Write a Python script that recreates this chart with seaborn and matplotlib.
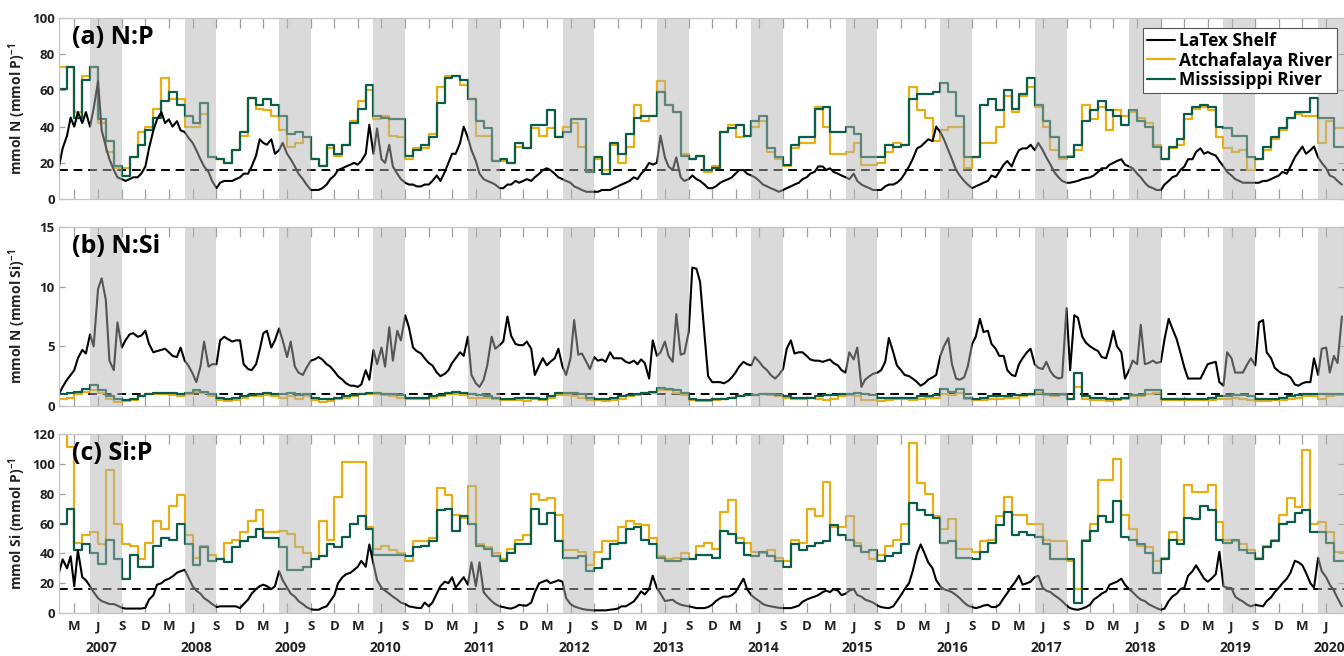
import numpy as np
import pandas as pd
import matplotlib
matplotlib.use('Agg')
import matplotlib.pyplot as plt
import matplotlib.dates as mdates
from matplotlib.ticker import FuncFormatter
import seaborn as sns

# ---------------- data ----------------
series_names = ['LaTex Shelf', 'Atchafalaya River', 'Mississippi River']
panel_titles = ['(a) N:P', '(b) N:Si', '(c) Si:P']
y_labels = [r'mmol N (mmol P)$^{-1}$', r'mmol N (mmol Si)$^{-1}$', r'mmol Si (mmol P)$^{-1}$']
redfield = [16, 1, 16]
y_max = [100, 15, 120]
y_ticks = [[0, 20, 40, 60, 80, 100], [0, 5, 10, 15], [0, 20, 40, 60, 80, 100, 120]]
month_letters = {3: 'M', 6: 'J', 9: 'S', 12: 'D'}
years = list(range(2007, 2021))
summer_months = (5, 9)          # shaded May 1 - Sep 1
shelf_start, shelf_end = '2007-01-01', '2020-08-01'   # semi-monthly (1st & 15th)
river_start, river_end = '2007-01-01', '2020-08-01'   # monthly means

# LaTex shelf, semi-monthly
latex_np = [
    18, 28, 35, 45, 40, 48, 42, 48, 40, 50, 65, 38, 29, 22, 16, 12, 11, 10, 11, 12, 12, 14, 18, 28,
    38, 44, 48, 42, 44, 40, 43, 38, 37, 34, 31, 27, 22, 18, 15, 10, 6, 9, 10, 10, 10, 11, 12, 14,
    14, 18, 24, 33, 31, 30, 33, 25, 27, 31, 25, 22, 18, 14, 11, 8, 5, 5, 5, 6, 8, 11, 13, 16,
    17, 18, 19, 20, 19, 21, 25, 41, 25, 39, 22, 20, 30, 18, 14, 11, 9, 8, 8, 7, 7, 8, 8, 10,
    13, 10, 15, 20, 25, 25, 31, 40, 34, 27, 21, 14, 11, 10, 9, 8, 6, 6, 8, 8, 10, 9, 10, 11,
    10, 12, 14, 16, 17, 16, 14, 12, 11, 10, 9, 7, 6, 5, 4, 4, 4, 4, 5, 5, 5, 6, 7, 8,
    9, 10, 12, 11, 14, 16, 20, 19, 20, 35, 23, 18, 16, 23, 12, 10, 11, 13, 11, 10, 8, 6, 6, 7,
    9, 10, 11, 12, 14, 16, 16, 14, 13, 12, 10, 8, 7, 6, 5, 4, 5, 6, 7, 8, 9, 11, 12, 14,
    15, 18, 18, 16, 17, 15, 14, 13, 12, 11, 14, 10, 8, 7, 6, 5, 5, 5, 7, 8, 8, 9, 11, 14,
    18, 22, 28, 29, 31, 33, 32, 40, 37, 33, 27, 22, 16, 13, 10, 8, 6, 7, 8, 9, 10, 13, 12, 15,
    19, 21, 18, 23, 27, 28, 28, 30, 27, 31, 27, 23, 19, 15, 12, 10, 9, 9, 9.5, 10, 11, 11.5, 12, 13,
    15, 17, 17, 19, 20, 21, 22, 19, 18, 17, 14, 12, 9, 7, 6, 5, 5, 8, 10, 12, 13, 16, 18, 22,
    22, 26, 28, 25, 26, 25, 24, 21, 18, 15, 13, 11, 10, 9, 9, 9, 9, 9, 10, 10, 11, 12, 13, 15,
    14, 18, 23, 26, 29, 25, 27, 29, 23, 20, 17, 13, 12, 10, 8]
latex_nsi = [
    1.0, 1.6, 2.2, 2.6, 3.0, 4.0, 4.7, 4.4, 6.0, 5.0, 9.8, 10.7, 8.9, 3.8, 3.0, 7.0, 4.9, 5.5, 6.0, 6.1, 5.8, 5.9, 6.3, 5.2,
    4.5, 4.6, 4.7, 4.8, 4.5, 4.2, 4.1, 4.9, 3.8, 3.4, 2.7, 2.0, 3.3, 5.4, 3.3, 3.5, 3.5, 5.5, 5.8, 5.6, 5.4, 5.5, 5.5, 3.5,
    3.1, 3.0, 3.5, 4.7, 6.1, 6.3, 4.9, 5.5, 6.5, 5.5, 4.1, 5.4, 3.3, 2.8, 2.6, 3.2, 3.8, 3.9, 4.1, 3.9, 3.5, 3.3, 2.9, 2.5,
    2.2, 1.9, 1.7, 1.7, 1.6, 1.8, 3.0, 2.2, 4.7, 3.5, 4.9, 3.3, 6.6, 3.8, 6.3, 5.5, 7.6, 6.6, 4.9, 4.6, 4.4, 4.0, 3.6, 3.4,
    2.8, 2.5, 2.7, 3.0, 3.6, 4.0, 4.5, 4.2, 5.8, 2.6, 1.9, 1.6, 2.2, 3.4, 5.8, 4.8, 5.1, 5.4, 7.5, 5.9, 5.2, 5.1, 5.1, 5.4,
    4.8, 2.6, 3.4, 4.0, 3.4, 3.7, 4.0, 4.8, 3.3, 2.6, 4.0, 7.2, 4.3, 4.4, 3.7, 3.1, 4.1, 3.8, 3.9, 3.7, 4.5, 4.0, 4.0, 4.0,
    3.7, 3.6, 3.8, 3.5, 3.9, 3.6, 2.3, 5.5, 4.2, 4.5, 5.4, 4.2, 3.7, 7.7, 4.3, 4.4, 6.2, 11.6, 11.5, 10.4, 6.0, 2.5, 2.0, 2.0,
    2.0, 1.9, 2.1, 2.4, 2.8, 3.3, 3.7, 3.5, 3.4, 4.1, 3.7, 3.3, 3.0, 2.6, 2.3, 2.6, 3.1, 4.8, 5.5, 4.4, 4.5, 4.5, 4.2, 3.9,
    3.8, 3.8, 3.7, 3.8, 3.9, 3.6, 3.4, 3.0, 2.8, 4.5, 3.9, 4.9, 1.6, 2.2, 2.5, 2.7, 2.8, 3.0, 3.7, 5.7, 4.5, 3.4, 3.0, 2.6,
    2.5, 2.3, 2.0, 1.7, 1.9, 2.2, 2.4, 2.6, 4.2, 5.0, 5.7, 3.5, 2.3, 2.2, 2.4, 3.3, 5.2, 5.8, 7.3, 6.2, 6.3, 5.2, 4.8, 4.2,
    4.2, 3.0, 2.6, 2.5, 3.5, 4.0, 4.5, 4.8, 3.5, 3.2, 3.1, 3.7, 2.9, 2.5, 2.3, 2.4, 8.2, 3.0, 7.6, 7.4, 5.8, 5.3, 5.0, 4.8,
    4.6, 4.1, 4.0, 5.0, 6.3, 5.0, 4.5, 2.3, 3.0, 3.8, 3.5, 6.8, 3.5, 3.6, 3.8, 3.6, 3.7, 5.6, 7.3, 6.5, 5.6, 4.5, 3.2, 2.3,
    2.3, 2.3, 2.3, 2.9, 3.5, 3.6, 3.7, 2.0, 1.7, 4.5, 4.0, 2.8, 2.8, 2.8, 3.5, 4.0, 3.4, 7.0, 7.2, 4.5, 4.0, 3.2, 2.9, 2.7,
    2.6, 2.4, 1.8, 1.7, 1.9, 2.0, 2.0, 4.0, 2.6, 4.8, 4.9, 2.8, 4.2, 3.6, 7.5]
latex_sip = [
    27, 36, 30, 38, 18, 42, 24, 22, 18, 14, 10, 8, 7, 6, 6, 5, 3.5, 3, 3, 3, 3, 3, 3.5, 9,
    12, 19, 20, 22, 23, 24.5, 27, 28, 29, 24, 18, 15, 13, 10, 8, 6, 4, 4.5, 4.5, 4.5, 4.5, 4.5, 3.3, 6,
    9, 13, 16, 18, 19, 18, 16, 18, 28, 22, 17, 13, 11, 8, 6, 4, 2.5, 2.2, 2.2, 3.5, 4.5, 8, 12, 20,
    24, 26, 27, 29, 31, 35, 31, 46, 33, 22, 17, 15, 13, 11, 9, 7, 6, 4.5, 4, 3.5, 3.3, 7, 4.5, 7,
    13, 18, 21, 20, 24, 17, 21, 24, 19, 34, 18, 34, 14, 11, 8, 6, 4.5, 4, 3.3, 3, 4, 5.5, 5, 5,
    7, 14, 20, 21, 22, 20, 21, 22, 21, 10, 6, 4.5, 3.5, 2.8, 2.2, 2, 1.8, 1.8, 1.8, 1.8, 2.2, 2.5, 3, 4.5,
    4.5, 6, 7.8, 11, 14.5, 12.5, 16, 25, 16.7, 13, 8, 8.5, 8.9, 7, 5.6, 5, 4.5, 4, 3.3, 3.3, 3.3, 4, 5.6, 8,
    10, 11, 11, 12, 14, 18, 23, 16, 12, 10, 8, 6, 5, 4.5, 4, 3.5, 3.3, 3.3, 3.3, 4, 5, 7.5, 9, 10,
    11, 12, 14, 15, 14, 16, 15, 12, 13, 15, 16, 12, 11, 9, 8, 7, 5, 4, 3.5, 3.3, 4.5, 8, 12, 16,
    20, 28, 40, 46, 40, 34, 30, 22, 18, 16, 15, 14, 12, 10, 7, 5, 4, 3.3, 4, 5, 5.5, 4, 4, 5.5,
    10, 13.4, 17.8, 21, 25, 19, 20, 21, 24, 25, 17, 15, 14, 12, 10, 8, 5, 3.3, 2.5, 2.2, 3, 4, 5.6, 9,
    11, 13, 14.5, 19, 20, 21, 23, 19, 16, 14, 11, 9, 8, 6, 4.5, 3.3, 2.2, 3, 8, 11, 13, 16, 17, 25,
    28, 32, 27, 23, 21, 23, 26, 41, 18, 17, 16.7, 11, 9, 7.8, 5.5, 4.5, 5.5, 5, 4.5, 8, 10.5, 14, 17, 20,
    23, 27, 35, 34, 32, 27, 20, 17, 37, 28, 24, 19, 15, 10, 4.5]

# Rivers, monthly
atch_np = [
    73, 73, 48, 68, 73, 42, 26, 17, 17, 23, 37, 40,
    50, 67, 55, 55, 40, 40, 47, 23, 22, 20, 27, 35,
    56, 50, 49, 46, 38, 29, 31, 34, 22, 18, 28, 24,
    30, 43, 54, 60, 44, 46, 35, 34, 22, 28, 28, 36,
    62, 68, 68, 63, 55, 35, 35, 21, 21, 20, 29, 28,
    39, 35, 39, 34, 40, 42, 29, 15, 22, 16, 30, 20,
    29, 52, 43, 46, 65, 52, 48, 25, 22, 24, 15, 18,
    37, 41, 34, 35, 40, 43, 26, 22, 18, 28, 31, 31,
    51, 40, 25, 25, 26, 31, 19, 19, 20, 26, 31, 30,
    62, 49, 45, 32, 38, 40, 40, 17, 23, 31, 31, 40,
    57, 48, 57, 62, 51, 40, 27, 22, 24, 27, 52, 44,
    51, 38, 49, 46, 48, 45, 42, 30, 22, 28, 30, 44,
    50, 51, 49, 34, 28, 26, 27, 16, 22, 27, 33, 38,
    45, 47, 46, 46, 31, 43, 39, 39]
miss_np = [
    61, 73, 45, 66, 73, 44, 32, 18, 13, 23, 30, 38,
    45, 54, 59, 52, 46, 42, 53, 23, 22, 20, 27, 37,
    56, 52, 55, 52, 46, 36, 37, 34, 22, 18, 30, 25,
    30, 42, 50, 63, 46, 45, 44, 44, 24, 27, 30, 34,
    53, 67, 68, 66, 55, 43, 39, 21, 22, 20, 31, 28,
    41, 41, 49, 34, 37, 44, 44, 15, 23, 14, 31, 25,
    36, 45, 46, 46, 59, 52, 48, 24, 22, 24, 16, 17,
    37, 39, 41, 35, 43, 46, 28, 23, 19, 30, 34, 34,
    50, 51, 37, 37, 40, 36, 23, 23, 23, 30, 29, 30,
    55, 58, 58, 59, 64, 59, 46, 23, 23, 52, 55, 49,
    60, 50, 58, 67, 52, 43, 34, 23, 23, 30, 43, 49,
    54, 49, 46, 41, 49, 43, 40, 29, 22, 29, 33, 47,
    51, 52, 51, 40, 39, 35, 35, 23, 22, 29, 34, 39,
    45, 48, 48, 56, 45, 45, 29, 29]
atch_nsi = [
    0.6, 0.7, 1.0, 1.2, 1.3, 1.1, 0.6, 0.35, 0.4, 0.5, 0.8, 1.0,
    1.0, 1.0, 0.9, 0.8, 1.0, 1.2, 1.1, 0.8, 0.5, 0.4, 0.5, 0.7,
    0.8, 0.8, 0.9, 0.8, 0.7, 0.8, 0.6, 0.8, 0.5, 0.3, 0.4, 0.6,
    0.7, 0.8, 1.0, 1.0, 1.0, 0.9, 0.8, 0.7, 0.6, 0.6, 0.6, 0.7,
    0.8, 1.0, 1.0, 0.9, 0.7, 0.7, 0.7, 0.6, 0.5, 0.5, 0.5, 0.4,
    0.6, 0.5, 0.7, 0.9, 0.9, 0.8, 0.7, 0.5, 0.5, 0.4, 0.5, 0.6,
    0.8, 0.9, 1.1, 1.1, 1.3, 1.3, 1.1, 0.9, 0.5, 0.4, 0.4, 0.5,
    0.6, 0.7, 0.8, 0.9, 0.9, 1.0, 0.9, 0.8, 0.7, 0.6, 0.6, 0.7,
    0.6, 0.5, 0.6, 0.8, 0.9, 0.8, 0.5, 0.5, 0.4, 0.5, 0.6, 0.6,
    0.5, 0.6, 0.7, 0.7, 1.0, 0.9, 1.1, 0.6, 0.5, 0.5, 0.6, 0.6,
    0.7, 0.7, 0.8, 0.9, 1.1, 0.9, 0.8, 0.9, 0.6, 1.6, 0.6, 0.5,
    0.5, 0.4, 0.5, 0.6, 0.8, 0.8, 1.0, 1.1, 0.5, 0.5, 0.5, 0.5,
    0.5, 0.5, 0.5, 0.6, 0.6, 0.7, 0.6, 0.5, 0.4, 0.4, 0.5, 0.5,
    0.6, 0.7, 0.8, 0.8, 0.6, 0.8, 0.9, 0.9]
miss_nsi = [
    1.0, 1.1, 1.2, 1.4, 1.8, 1.3, 0.8, 0.6, 0.5, 0.6, 0.8, 1.0,
    1.1, 1.1, 1.1, 1.0, 1.1, 1.3, 1.2, 1.0, 0.7, 0.6, 0.7, 0.8,
    0.9, 1.0, 1.1, 1.0, 1.0, 1.1, 0.9, 1.0, 0.7, 0.6, 0.6, 0.7,
    0.8, 0.9, 1.0, 1.1, 1.1, 1.0, 1.0, 0.9, 0.7, 0.7, 0.7, 0.8,
    0.9, 1.1, 1.2, 1.1, 1.0, 0.9, 0.8, 0.7, 0.6, 0.6, 0.7, 0.7,
    0.7, 0.6, 0.8, 1.1, 1.1, 1.1, 1.0, 0.7, 0.6, 0.6, 0.7, 0.8,
    0.9, 1.0, 1.1, 1.2, 1.5, 1.4, 1.3, 1.1, 0.6, 0.5, 0.5, 0.6,
    0.6, 0.7, 0.8, 0.9, 0.9, 1.0, 1.0, 0.9, 0.8, 0.7, 0.7, 0.7,
    0.8, 0.9, 0.9, 1.0, 1.0, 1.1, 1.0, 0.9, 0.7, 0.7, 0.7, 0.7,
    0.7, 0.8, 0.8, 0.9, 1.4, 1.2, 1.4, 0.7, 0.6, 0.7, 0.8, 0.8,
    0.8, 0.9, 0.9, 1.0, 1.3, 1.0, 0.9, 1.0, 0.6, 2.8, 0.8, 0.7,
    0.7, 0.6, 0.6, 0.7, 0.9, 0.9, 1.3, 1.3, 0.6, 0.6, 0.6, 0.6,
    0.6, 0.6, 0.7, 0.8, 0.8, 0.9, 0.9, 0.8, 0.6, 0.6, 0.6, 0.7,
    0.8, 0.9, 1.0, 1.0, 1.0, 1.0, 1.0, 1.0]
atch_sip = [
    125, 111, 47, 52, 54, 46, 96, 60, 46, 45, 36, 47,
    62, 56, 72, 79, 52, 37, 45, 39, 36, 47, 49, 54,
    62, 69, 54, 54, 55, 53, 44, 40, 36, 62, 49, 78,
    101, 101, 101, 58, 43, 45, 42, 40, 35, 48, 48, 50,
    84, 79, 66, 64, 85, 46, 44, 40, 36, 43, 49, 52,
    80, 76, 77, 66, 42, 42, 41, 32, 41, 48, 48, 58,
    62, 60, 59, 50, 38, 36, 37, 40, 36, 45, 47, 43,
    68, 76, 50, 47, 41, 40, 42, 37, 35, 49, 47, 70,
    65, 88, 58, 58, 65, 47, 41, 36, 39, 45, 49, 60,
    114, 87, 80, 65, 56, 63, 43, 43, 41, 48, 49, 65,
    78, 66, 66, 60, 60, 49, 48, 48, 35, 16, 49, 60,
    89, 89, 103, 66, 56, 45, 44, 35, 37, 54, 49, 86,
    81, 81, 86, 61, 49, 48, 46, 42, 37, 45, 49, 66,
    77, 71, 109, 60, 61, 54, 41, 41]
miss_sip = [
    60, 70, 42, 46, 40, 33, 49, 36, 23, 39, 31, 31,
    45, 50, 49, 60, 46, 32, 44, 35, 36, 34, 44, 48,
    51, 56, 50, 50, 44, 29, 29, 31, 36, 38, 46, 44,
    51, 60, 65, 56, 39, 39, 39, 39, 38, 44, 45, 48,
    69, 70, 55, 65, 60, 45, 43, 38, 35, 40, 46, 46,
    70, 60, 67, 48, 37, 37, 38, 28, 30, 36, 46, 47,
    56, 58, 49, 46, 37, 35, 35, 36, 36, 39, 39, 37,
    55, 53, 47, 39, 38, 41, 38, 35, 31, 46, 42, 45,
    47, 48, 59, 52, 49, 45, 41, 42, 35, 38, 40, 46,
    74, 69, 66, 64, 47, 48, 37, 37, 36, 41, 47, 59,
    68, 52, 54, 52, 51, 46, 36, 36, 36, 7, 48, 55,
    65, 61, 75, 51, 49, 46, 40, 27, 36, 49, 46, 64,
    63, 72, 69, 49, 47, 49, 42, 40, 36, 44, 48, 60,
    61, 67, 69, 54, 54, 47, 35, 35]

shelf = [latex_np, latex_nsi, latex_sip]
atch = [atch_np, atch_nsi, atch_sip]
miss = [miss_np, miss_nsi, miss_sip]

# ---------------- style ----------------
c_shelf, c_atch, c_miss = '#000000', '#E8AE14', '#0B5D4B'
txt = '#222222'
sns.set_theme(style='white')
plt.rcParams['font.family'] = ['Open Sans', 'DejaVu Sans']
plt.rcParams['font.weight'] = 'bold'
plt.rcParams['mathtext.fontset'] = 'custom'
plt.rcParams['mathtext.rm'] = 'Open Sans:bold'
plt.rcParams['mathtext.bf'] = 'Open Sans:bold'
plt.rcParams['mathtext.default'] = 'bf'

fig = plt.figure(figsize=(13.44, 6.56), dpi=100)
positions = [(0.0439, 0.6966, 0.9561, 0.2759),
             (0.0439, 0.3811, 0.9561, 0.2729),
             (0.0439, 0.0655, 0.9561, 0.2729)]

shelf_dates = pd.date_range(shelf_start, shelf_end, freq='SMS')
river_dates = pd.date_range(river_start, river_end, freq='MS')
river_edges = river_dates.append(pd.DatetimeIndex([river_dates[-1] + pd.offsets.MonthBegin(1)]))
x_left, x_right = pd.Timestamp('2007-01-01'), pd.Timestamp('2020-08-09')

for i in range(3):
    ax = fig.add_axes(positions[i])
    ax.set_facecolor('white')
    df_shelf = pd.DataFrame({'date': shelf_dates, 'v': shelf[i]})
    df_a = pd.DataFrame({'date': river_edges, 'v': list(atch[i]) + [atch[i][-1]]})
    df_m = pd.DataFrame({'date': river_edges, 'v': list(miss[i]) + [miss[i][-1]]})

    ax.axhline(redfield[i], color='black', lw=1.4, dashes=(4.5, 3), zorder=1.8)
    sns.lineplot(data=df_a, x='date', y='v', ax=ax, color=c_atch, lw=1.6,
                 drawstyle='steps-post', estimator=None, label=series_names[1], zorder=2)
    sns.lineplot(data=df_m, x='date', y='v', ax=ax, color=c_miss, lw=1.6,
                 drawstyle='steps-post', estimator=None, label=series_names[2], zorder=2.1)
    sns.lineplot(data=df_shelf, x='date', y='v', ax=ax, color=c_shelf, lw=1.5,
                 estimator=None, label=series_names[0], zorder=2.2)

    for y in years:
        ax.axvspan(pd.Timestamp(y, summer_months[0], 1), pd.Timestamp(y, summer_months[1], 1),
                   facecolor='#b3b3b3', alpha=0.48, lw=0, zorder=3)

    ax.set_xlim(x_left, x_right)
    ax.set_ylim(0, y_max[i])
    ax.set_yticks(y_ticks[i])
    ax.set_xlabel('')
    ax.set_ylabel(y_labels[i], fontsize=10, fontweight='bold', color=txt)
    ax.yaxis.set_label_coords(-0.024, 0.5)

    ax.xaxis.set_major_locator(mdates.MonthLocator(bymonth=[3, 6, 9, 12]))
    ax.xaxis.set_major_formatter(FuncFormatter(
        lambda x, pos: month_letters[mdates.num2date(x).month]))
    ax.tick_params(axis='x', which='major', direction='in', length=7, width=0.9,
                   color='#a0a0a0', top=True, bottom=True, labelbottom=(i == 2),
                   labelsize=9.5, labelcolor=txt, pad=5)
    ax.tick_params(axis='y', which='major', direction='in', length=4, width=0.9,
                   color='#a0a0a0', left=True, right=True, labelsize=9.5,
                   labelcolor=txt, pad=3)
    for lab in ax.get_xticklabels() + ax.get_yticklabels():
        lab.set_fontweight('bold')
    for sp in ax.spines.values():
        sp.set_color('#c4c4c4')
        sp.set_linewidth(0.9)
        sp.set_zorder(4)

    ax.text(0.010, 0.89, panel_titles[i], transform=ax.transAxes, fontsize=18,
            fontweight='bold', color='black', ha='left', va='center', zorder=6)

    if ax.get_legend() is not None:
        ax.get_legend().remove()

    if i == 0:
        handles, labels = ax.get_legend_handles_labels()
        order = [labels.index(n) for n in series_names]
        leg = ax.legend([handles[k] for k in order], [labels[k] for k in order],
                        loc='upper right', bbox_to_anchor=(0.997, 0.965),
                        frameon=True, fancybox=False, framealpha=1,
                        edgecolor='#555555', prop={'weight': 'bold', 'size': 12.5},
                        handlelength=1.6, handletextpad=0.25, labelspacing=0.08,
                        borderpad=0.25, borderaxespad=0.2)
        leg.get_frame().set_linewidth(0.8)
        leg.set_zorder(7)
        for t in leg.get_texts():
            t.set_color('black')

    if i == 2:
        for y in years:
            ax.text(mdates.date2num(pd.Timestamp(y, 6, 15)), -0.196, str(y),
                    transform=ax.get_xaxis_transform(), ha='center', va='center',
                    fontsize=10, fontweight='bold', color=txt, clip_on=False)

fig.savefig('out.png', dpi=100, facecolor='white')
